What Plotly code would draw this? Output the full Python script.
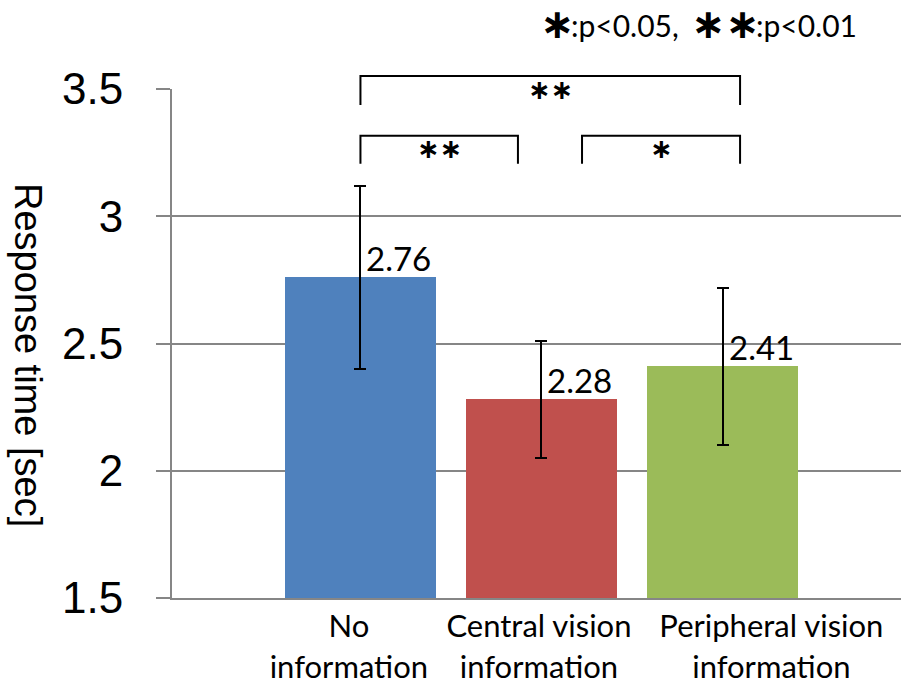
import plotly.graph_objects as go

# Mean response time per condition, with error bars
categories = ["No<br>information", "Central vision<br>information", "Peripheral vision<br>information"]
values = [2.76, 2.28, 2.41]
errors = [0.36, 0.23, 0.31]
value_labels = ["2.76", "2.28", "2.41"]
bar_colors = ["#4F81BD", "#C0504D", "#9BBB59"]
y_ticks = [1.5, 2, 2.5, 3, 3.5]
y_tick_text = ["1.5", "2", "2.5", "3", "3.5"]

# significance brackets: (left x, right x, level, stars)
brackets = [
    (0.0, 2.097, 0, "∗∗"),
    (0.0, 0.87, 1, "∗∗"),
    (1.224, 2.097, 1, "∗"),
]

# significance key: (stars, meaning)
key_items = [("∗", ":p<0.05,"), ("∗∗", ":p<0.01")]

W, H = 902, 686
L, R, T, B = 172, 1, 89, 86
X_RANGE = [-1.041, 2.986]
Y_RANGE = [1.5, 3.5]
GRID = "#868686"
LABEL_FONT = "Lato, 'Noto Sans', sans-serif"
ARIAL = "'Liberation Sans', Arial, sans-serif"
STAR_FONT = "'DejaVu Sans', sans-serif"

x = list(range(len(values)))

fig = go.Figure()
fig.add_trace(go.Bar(
    x=x, y=values, width=0.834,
    marker=dict(color=bar_colors, line=dict(width=0)),
    error_y=dict(type="data", array=errors, color="black", thickness=2, width=6),
    showlegend=False,
))

# value labels next to the error bars
for xi, v, t in zip(x, values, value_labels):
    fig.add_annotation(x=xi, y=v, text=t, xref="x", yref="y",
                       xanchor="left", yanchor="bottom", xshift=4, yshift=-3,
                       showarrow=False, font=dict(family=LABEL_FONT, size=33, color="black"))

plot_w = W - L - R
plot_h = H - T - B


def xpaper(px):
    return (px - L) / plot_w


def ypaper(py):
    return (H - B - py) / plot_h


# brackets above the bars
levels = {0: (76, 105), 1: (136, 164)}
for x0, x1, lvl, stars in brackets:
    top, bottom = levels[lvl]
    fig.add_shape(type="path", xref="x", yref="paper",
                  path=f"M {x0} {ypaper(bottom)} L {x0} {ypaper(top)} L {x1} {ypaper(top)} L {x1} {ypaper(bottom)}",
                  line=dict(color="black", width=2))
    fig.add_annotation(x=(x0 + x1) / 2, y=ypaper(top + 13), xref="x", yref="paper",
                       text=f"<b>{stars}</b>", showarrow=False, xanchor="center", yanchor="middle",
                       font=dict(family=STAR_FONT, size=27, color="black"))

# significance key in the top-right corner
key_x = [(538, 569), (689, 754)]
for (stars, meaning), (sx, tx) in zip(key_items, key_x):
    fig.add_annotation(x=xpaper(sx), y=ypaper(24), xref="paper", yref="paper",
                       text=f"<b>{stars}</b>", showarrow=False, xanchor="left", yanchor="middle",
                       font=dict(family=STAR_FONT, size=41, color="black"))
    fig.add_annotation(x=xpaper(tx), y=ypaper(25), xref="paper", yref="paper",
                       text=meaning.replace("<", "&lt;"), showarrow=False,
                       xanchor="left", yanchor="middle",
                       font=dict(family=LABEL_FONT, size=30, color="black"))

# y-axis title, reading top to bottom
fig.add_annotation(x=-(L - 28) / plot_w, y=ypaper(356), xref="paper", yref="paper",
                   text="Response time [sec]", textangle=90, showarrow=False,
                   xanchor="center", yanchor="middle",
                   font=dict(family=ARIAL, size=38, color="black"))

fig.update_layout(
    width=W, height=H,
    margin=dict(l=L, r=R, t=T, b=B),
    paper_bgcolor="white", plot_bgcolor="white",
    bargap=0,
    xaxis=dict(
        range=X_RANGE, tickmode="array", tickvals=[-0.064, 0.986, 2.27], ticktext=categories,
        showgrid=False, zeroline=False, showline=True, linecolor=GRID, linewidth=2,
        ticks="", tickfont=dict(family=LABEL_FONT, size=31, color="black"),
    ),
    yaxis=dict(
        range=Y_RANGE, tickmode="array", tickvals=y_ticks, ticktext=y_tick_text,
        showgrid=True, gridcolor=GRID, gridwidth=2, zeroline=False,
        showline=True, linecolor=GRID, linewidth=2,
        ticks="outside", ticklen=14, tickwidth=2, tickcolor=GRID,
        ticklabelstandoff=24,
        tickfont=dict(family=ARIAL, size=44, color="black"),
    ),
)

fig.write_html("out.html")
